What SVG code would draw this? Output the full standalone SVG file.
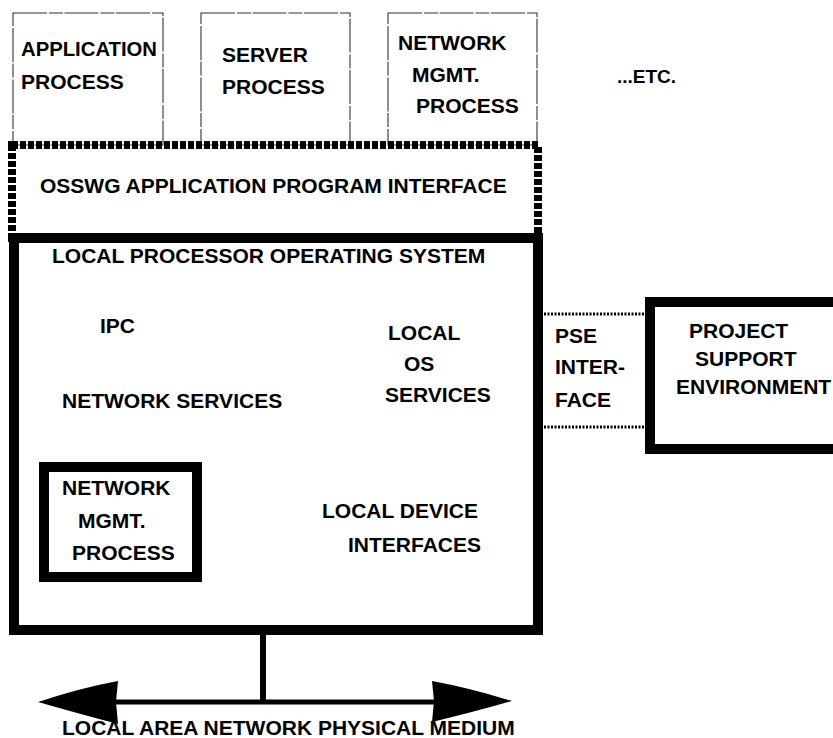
<svg xmlns="http://www.w3.org/2000/svg" width="833" height="738" viewBox="0 0 833 738">
<style>
text{font-family:"Liberation Sans",Arial,Helvetica,sans-serif;font-weight:bold;font-size:21px;fill:#000}
.thin{fill:none;stroke:#333;stroke-width:1.1;stroke-dasharray:34 2 14 1.5}
.thick{fill:none;stroke:#000;stroke-width:10}
.api{fill:none;stroke:#000;stroke-width:8;stroke-dasharray:6 2}
.dot{fill:none;stroke:#000;stroke-width:3;stroke-dasharray:2 1.5}
.line{stroke:#000;fill:none}
</style>
<rect width="833" height="738" fill="#fff"/>
<g id="app-process">
<rect class="thin" x="13" y="13" width="150" height="132"/>
<text x="21" y="56" textLength="136" lengthAdjust="spacingAndGlyphs">APPLICATION</text>
<text x="21" y="89">PROCESS</text>
</g>
<g id="server-process">
<rect class="thin" x="201" y="13" width="149" height="132"/>
<text x="222" y="62">SERVER</text>
<text x="222" y="94">PROCESS</text>
</g>
<g id="netmgmt-process-top">
<rect class="thin" x="388" y="13" width="149" height="132"/>
<text x="398" y="50">NETWORK</text>
<text x="412" y="82">MGMT.</text>
<text x="416" y="113">PROCESS</text>
</g>
<g id="etc">
<text x="617" y="83" style="font-size:19px">...ETC.</text>
</g>
<g id="api">
<rect class="api" x="12" y="145" width="526" height="93"/>
<text x="40" y="193">OSSWG APPLICATION PROGRAM INTERFACE</text>
</g>
<g id="local-os">
<rect class="thick" x="14" y="238" width="524" height="392"/>
<text x="52" y="263">LOCAL PROCESSOR OPERATING SYSTEM</text>
<text x="100" y="333">IPC</text>
<text x="62" y="408">NETWORK SERVICES</text>
<text x="388" y="340">LOCAL</text>
<text x="404" y="371">OS</text>
<text x="385" y="402">SERVICES</text>
<text x="322" y="518">LOCAL DEVICE</text>
<text x="348" y="552">INTERFACES</text>
</g>
<g id="netmgmt-process-inner">
<rect class="thick" x="44" y="467" width="153" height="110"/>
<text x="62" y="495">NETWORK</text>
<text x="78" y="528">MGMT.</text>
<text x="72" y="560">PROCESS</text>
</g>
<g id="pse-interface">
<text x="555" y="343">PSE</text>
<text x="555" y="374">INTER-</text>
<text x="555" y="407">FACE</text>
</g>
<g id="pse">
<rect class="thick" x="650" y="302" width="200" height="147"/>
<text x="689" y="338">PROJECT</text>
<text x="695" y="366">SUPPORT</text>
<text x="676" y="394">ENVIRONMENT</text>
</g>
<g id="connectors">
<line class="dot" x1="544" y1="314" x2="646" y2="314"/>
<line class="dot" x1="544" y1="427" x2="646" y2="427"/>
<line class="line" x1="263" y1="634" x2="263" y2="702" stroke-width="6"/>
<line class="line" x1="100" y1="702" x2="450" y2="702" stroke-width="5"/>
<path d="M38,702 Q80,688 118,681 L116,702 L118,724 Q80,714 38,702 Z" fill="#000"/>
<path d="M512,701 Q470,688 432,681 L434,701 L432,722 Q470,713 512,701 Z" fill="#000"/>
</g>
<g id="lan-label">
<text x="62" y="735">LOCAL AREA NETWORK PHYSICAL MEDIUM</text>
</g>
</svg>
